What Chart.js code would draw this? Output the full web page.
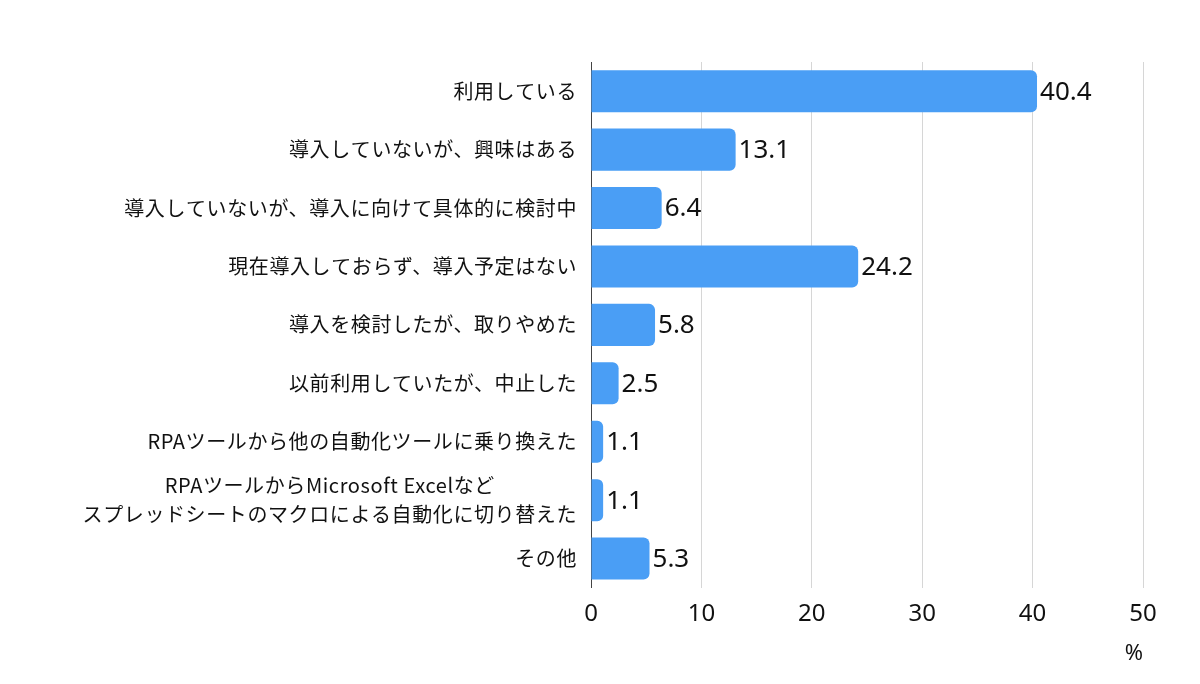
<!DOCTYPE html>
<html>
<head>
<meta charset="utf-8">
<script src="https://cdn.jsdelivr.net/npm/chart.js@4/dist/chart.umd.min.js"></script>
<style>
  html, body { margin: 0; padding: 0; background: #fff; }
  #wrap { width: 1200px; height: 684px; }
</style>
</head>
<body>
<div id="wrap"><canvas id="myChart"></canvas></div>
<script>
// categories (top to bottom), second-to-last one is split into two lines
const categories = [
	['利用している'],
	['導入していないが、興味はある'],
	['導入していないが、導入に向けて具体的に検討中'],
	['現在導入しておらず、導入予定はない'],
	['導入を検討したが、取りやめた'],
	['以前利用していたが、中止した'],
	['RPAツールから他の自動化ツールに乗り換えた'],
	['RPAツールからMicrosoft Excelなど', 'スプレッドシートのマクロによる自動化に切り替えた'],
	['その他']
];
// percent values
const values = [40.4, 13.1, 6.4, 24.2, 5.8, 2.5, 1.1, 1.1, 5.3];
const xTicks = [0, 10, 20, 30, 40, 50];

const jpFont = '"Noto Sans CJK JP", "Noto Sans", sans-serif';
const numFont = '"Noto Sans", "Liberation Sans", sans-serif';

//draws the category names left of the axis, multi-line ones centered on their longest line
const yLabels = {
	id: 'yLabels',
	afterDraw(chart) {
		const ctx = chart.ctx;
		const yScale = chart.scales.y;
		const rightEdge = yScale.right - 14;
		const lineHeight = 29;
		ctx.save();
		ctx.font = '20px ' + jpFont;
		ctx.letterSpacing = '0.6px';
		ctx.fillStyle = '#111';
		ctx.textBaseline = 'middle';
		ctx.textAlign = 'center';
		categories.forEach(function (lines, i) {
			const y = yScale.getPixelForTick(i);
			let maxW = 0;
			lines.forEach(function (l) { maxW = Math.max(maxW, ctx.measureText(l).width); });
			const cx = rightEdge - maxW / 2;
			const y0 = y - (lines.length - 1) * lineHeight / 2;
			lines.forEach(function (l, j) {
				ctx.fillText(l, cx, y0 + j * lineHeight);
			});
		});
		ctx.restore();
	}
};

//value labels at the end of each bar
const barValues = {
	id: 'barValues',
	afterDatasetsDraw(chart) {
		const ctx = chart.ctx;
		const meta = chart.getDatasetMeta(0);
		ctx.save();
		ctx.font = '26px ' + numFont;
		ctx.fillStyle = '#111';
		ctx.textBaseline = 'middle';
		ctx.textAlign = 'left';
		meta.data.forEach(function (bar, i) {
			ctx.fillText(values[i].toFixed(1), bar.x + 3, bar.y + 1);
		});
		ctx.restore();
	}
};

const ctx = document.getElementById('myChart');
const myChart = new Chart(ctx, {
	type: 'bar',
	data: {
		labels: categories.map(function (c) { return c.join(''); }),
		datasets: [{
			data: values,
			backgroundColor: '#4a9ef5',
			borderWidth: 0,
			borderRadius: 6,
			borderSkipped: 'start',
			barPercentage: 0.8,
			categoryPercentage: 0.9
		}]
	},
	options: {
		indexAxis: 'y',
		responsive: true,
		maintainAspectRatio: false,
		animation: false,
		layout: {
			padding: { top: 62, right: 57, bottom: 17, left: 0 }
		},
		plugins: {
			legend: { display: false },
			tooltip: { enabled: false }
		},
		scales: {
			x: {
				min: 0,
				max: 50,
				afterBuildTicks: function (scale) {
					scale.ticks = xTicks.map(function (v) { return { value: v }; });
				},
				grid: {
					color: '#d6d6d6',
					lineWidth: 1,
					drawTicks: false
				},
				border: { display: false },
				ticks: {
					padding: 12,
					color: '#111',
					font: { family: numFont, size: 24 }
				},
				title: {
					display: true,
					text: '%',
					align: 'end',
					color: '#111',
					padding: { top: 0, bottom: 0 },
					font: { family: numFont, size: 22 }
				}
			},
			y: {
				grid: { display: false },
				border: { display: true, color: '#444', width: 1 },
				ticks: { display: false },
				afterFit: function (scale) {
					scale.width = 591;
				}
			}
		}
	},
	plugins: [yLabels, barValues]
});
</script>
</body>
</html>
